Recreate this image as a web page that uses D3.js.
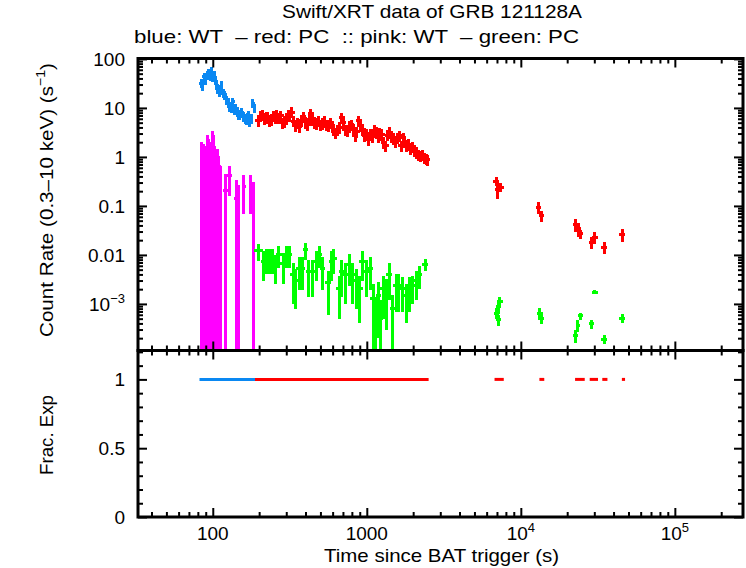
<!DOCTYPE html>
<html><head><meta charset="utf-8">
<script src="https://cdn.jsdelivr.net/npm/d3@7"></script>
<style>
body{margin:0;background:#fff}
text{font-family:"Liberation Sans",Arial,Helvetica,sans-serif;fill:#000}
</style>
</head><body><svg id="c" width="746" height="568"></svg>
<script>
// ---------------- DATA ----------------
// Blue: WT mode count rate
const blueT    = [84,86,88,90,92,94,96,98,100,102,104,106,108,110,112,114,117,120,123,126,129,132,135,138,141,144,147,150,154,158,162,166,170,174,178,182,186];
const blueTerr = [1,1,1,1,1,1,1,1,1,1,1,1,1,1,1,1,1.5,1.5,1.5,1.5,1.5,1.5,1.5,1.5,1.5,1.5,1.5,1.5,2,2,2,2,2,2,2,2,2];
const blueRate = [32,29,43,38,47,52,44,55,43,48,37,30,25,21.5,24,29.5,20,18.4,14.5,13,10.6,9.9,13.4,9.1,10,8.4,7.5,7.2,8,6.6,6,5.7,7.2,5.2,6.2,12.5,9.9];
const blueErr  = [7,6.5,9,8,10,11,9,12,9,10,8,6.5,5.5,5,5.5,6.5,4.4,4,3.2,2.9,2.4,2.2,2.9,2,2.2,1.9,1.7,1.6,1.8,1.5,1.4,1.3,1.6,1.2,1.4,2.7,2.2];

// Red: PC mode count rate
const redT = [198,204,210,216,222,228,234,240,247,254, 261,268,276,284,292,300,308,317,326,335,
              345,355,365,376,387,398,410,422,434,447, 460,473,487,501,516,531,546,562,578,595,
              612,630,648,667,686,706,727,748,770,792, 815,839,863,888,914,941,968,996,1025,1055,
              1086,1117,1150,1183,1218,1253,1290,1327,1366,1406, 1447,1489,1532,1577,1623,1670,1719,1769,1820,1873,
              1928,1984,2042,2101,2162,2225,2290,2357,2425,2480];
const redTerr = [6,6,6,6,7,7,7,7,7,8, 8,8,8,9,9,9,9,10,10,10, 10,11,11,11,12,12,12,13,13,13, 14,14,15,15,15,16,16,17,17,18,
                 18,19,19,20,21,21,22,22,23,24, 24,25,26,27,27,28,29,30,31,32, 33,34,35,35,37,38,39,40,41,42,
                 43,45,46,47,49,50,52,53,55,56, 58,60,61,63,65,67,69,71,73,50];
const redRate = [5.5,6.8,7.2,6.0,6.4,6.6,5.6,5.7,6.9,6.2, 7.2,6.3,7.0,5.0,5.3,6.0,7.3,7.0,8.2,5.4,
                 4.5,5.0,4.2,5.6,6.6,5.2,4.6,5.7,7.6,5.8, 5.2,4.9,5.4,4.6,4.9,5.3,4.6,4.5,5.0,4.2,
                 3.7,3.1,3.6,4.0,6.3,5.0,3.6,3.4,4.2,4.6, 3.7,2.7,3.3,5.5,4.4,3.6,2.7,2.9,2.3,3.0,
                 2.6,3.5,3.2,2.6,3.1,2.9,2.0,1.7,2.8,3.2, 2.6,2.4,2.1,2.5,2.7,1.7,2.5,2.1,1.7,1.8,
                 1.5,1.6,1.35,1.25,1.1,1.05,1.1,0.98,0.92,0.88];
const redErr  = [1.4,1.7,1.9,1.6,1.7,1.7,1.5,1.5,1.8,1.6, 1.9,1.6,1.8,1.3,1.4,1.6,1.9,1.8,2.1,1.4,
                 1.2,1.3,1.1,1.5,1.7,1.4,1.2,1.5,2.0,1.5, 1.4,1.3,1.4,1.2,1.3,1.4,1.2,1.2,1.3,1.1,
                 1.0,0.8,0.95,1.05,1.6,1.3,0.95,0.9,1.1,1.2, 0.95,0.7,0.85,1.4,1.15,0.95,0.7,0.75,0.6,0.78,
                 0.68,0.9,0.83,0.68,0.8,0.75,0.52,0.45,0.73,0.83, 0.68,0.62,0.55,0.65,0.7,0.45,0.65,0.55,0.45,0.47,
                 0.39,0.42,0.35,0.33,0.29,0.27,0.29,0.25,0.24,0.23];
const redLateT    = [6900,7050,7400,13000,13600,22600,23600,24500,28900,30100,34700,45500];
const redLateTerr = [200,150,220,350,350,600,500,600,700,900,800,1300];
const redLateRate = [0.32,0.22,0.24,0.095,0.063,0.042,0.034,0.027,0.018,0.023,0.0145,0.026];
const redLateErr  = [0.07,0.08,0.05,0.025,0.016,0.013,0.011,0.006,0.005,0.006,0.004,0.008];

// Pink: WT mode (second series)
const pinkT    = [85,86.5,88,89.5,91,92.5,94,95.5,97,98.5,100,101.5,103,104.5,106,107.5,109,110.5,112,121,129,142,146,159,176,183];
const pinkTerr = [1,1,1,1,1,1,1,1,1,1,1,1,1,1,1,1,1,1,1,2,3,2,2,2,2,2];
const pinkRate = [1.0,0.9,0.8,0.75,0.65,1.35,1.15,0.64,0.62,1.0,1.65,1.4,0.8,0.6,0.87,0.72,0.5,0.33,0.31,0.21,0.41,0.14,0.12,0.25,0.25,0.15];
const pinkErr  = [1.05,0.95,0.85,0.8,0.7,1.4,1.2,0.68,0.66,1.05,1.7,1.45,0.85,0.65,0.55,0.75,0.55,0.35,0.33,0.24,0.25,0.2,0.15,0.18,0.18,0.16];

// Green: PC mode (second series)
const greenT    = [199,214,223,235,246,256,269,286,301,316,332,346,363,382,401,421,443,470,494,515,562,590,610,660,685,730,767,807,855,899,935,991,1052,1100,1134,1190,1228,1280,1336,1400,1474,1550,1610,1710,1800,1900,1990,2090,2200,2390,
                   6950,7120,7200,7300,13300,13600,22600,23500,24300,28900,30100,34700,45500];
const greenTerr = [10,6,5,5,6,6,7,8,8,8,9,9,10,11,11,11,12,13,14,14,16,16,17,18,18,20,21,22,24,25,25,28,30,31,31,33,34,36,38,40,42,44,46,49,51,54,57,60,62,66,
                   200,150,150,200,350,350,500,500,600,700,900,800,1300];
const greenRate = [0.0121,0.0074,0.0085,0.0085,0.0085,0.0063,0.0101,0.0068,0.0101,0.0101,0.0040,0.0030,0.0054,0.0054,0.0126,0.0046,0.0046,0.0074,0.0101,0.0054,0.0027,0.0074,0.0085,0.0021,0.0046,0.0040,0.0063,0.0040,0.0030,0.0021,0.0074,0.0046,0.0054,0.0013,0.0006,0.0015,0.0005,0.0021,0.0018,0.0040,0.0008,0.0024,0.0024,0.0021,0.0015,0.0021,0.0024,0.0030,0.0040,0.0065,
                   6.5e-4,8.8e-4,4.7e-4,1.1e-3,6.5e-4,5.1e-4,2.3e-4,3.7e-4,5.7e-4,3.9e-4,1.75e-3,1.9e-4,5.1e-4];
const greenErr  = [0.0045,0.0045,0.0045,0.0045,0.0045,0.0038,0.0048,0.0042,0.0048,0.0048,0.003,0.0022,0.0035,0.0035,0.0048,0.0032,0.0032,0.0045,0.0048,0.0035,0.0021,0.0045,0.0045,0.0016,0.0032,0.003,0.004,0.003,0.0022,0.0017,0.0045,0.0032,0.0035,0.0012,0.0008,0.0013,0.0007,0.0016,0.0015,0.0028,0.0007,0.0017,0.0017,0.0014,0.0011,0.0014,0.0014,0.0018,0.002,0.0017,
                   1.6e-4,2.5e-4,1.2e-4,2.8e-4,1.8e-4,1.2e-4,0.7e-4,1.0e-4,0.9e-4,0.8e-4,0.15e-3,0.4e-4,1.1e-4];

// Fractional exposure (value 1) intervals
const fracStart = [82,188,6750,13200,22500,28000,33800,45300];
const fracEnd   = [188,2520,7750,14200,26000,31700,36500,47500];
const fracMode  = ["WT","PC","PC","PC","PC","PC","PC","PC"];
const fracValue = [1,1,1,1,1,1,1,1];

// Tick labels
const xMajor = [100,1000,1e4,1e5];
const xMajorLabels = [["100",""],["1000",""],["10","4"],["10","5"]];
const yTopMajor = [1e-3,0.01,0.1,1,10,100];
const yTopLabels = [["10","\u22123"],["0.01",""],["0.1",""],["1",""],["10",""],["100",""]];
const yBotMajor = [0,0.5,1];
const yBotLabels = ["0","0.5","1"];

// ---------------- CHART ----------------
const W=746,H=568;
const L=138, R=743, T1=58.5, B1=350.5, B2=517;
const colors = {blue:"#0a88f2", red:"#ff0000", pink:"#ff00ff", green:"#00ff00"};

const x = d3.scaleLog().domain([32.7, 2.77e5]).range([L,R]);
const yTop = d3.scaleLog().domain([1.12e-4, 102]).range([B1,T1]);
const yBot = d3.scaleLinear().domain([0,1.21]).range([B2,B1]);

const svg = d3.select("#c");
svg.append("rect").attr("width",W).attr("height",H).attr("fill","#fff");
svg.append("defs").append("clipPath").attr("id","clipTop")
  .append("rect").attr("x",L).attr("y",T1).attr("width",R-L).attr("height",B1-T1);

const dataG = svg.append("g").attr("clip-path","url(#clipTop)");
function drawSeries(ts, terr, rs, rerr, color){
  const [ymin,ymax] = yTop.domain();
  const pts = ts.map((t,i)=>({t, te:terr[i], r:rs[i], e:rerr[i]}));
  const g = dataG.append("g").attr("stroke",color).attr("stroke-width",3).attr("shape-rendering","crispEdges");
  g.selectAll("line.v").data(pts).enter().append("line").attr("class","v")
    .attr("x1",d=>x(d.t)).attr("x2",d=>x(d.t))
    .attr("y1",d=>yTop(Math.max(d.r-d.e, ymin)))
    .attr("y2",d=>yTop(Math.min(d.r+d.e, ymax)));
  g.selectAll("line.h").data(pts).enter().append("line").attr("class","h")
    .attr("x1",d=>x(d.t-d.te)-1).attr("x2",d=>x(d.t+d.te)+1)
    .attr("y1",d=>yTop(d.r)).attr("y2",d=>yTop(d.r));
}
drawSeries(blueT, blueTerr, blueRate, blueErr, colors.blue);
drawSeries(redT, redTerr, redRate, redErr, colors.red);
drawSeries(redLateT, redLateTerr, redLateRate, redLateErr, colors.red);
drawSeries(pinkT, pinkTerr, pinkRate, pinkErr, colors.pink);
drawSeries(greenT, greenTerr, greenRate, greenErr, colors.green);

// bottom panel fractional exposure
const fr = fracStart.map((s,i)=>({s, e:fracEnd[i], m:fracMode[i], v:fracValue[i]}));
svg.append("g").selectAll("line").data(fr).enter().append("line")
  .attr("x1",d=>x(d.s)).attr("x2",d=>x(d.e))
  .attr("y1",d=>yBot(d.v)).attr("y2",d=>yBot(d.v))
  .attr("stroke",d=>d.m==="WT"?colors.blue:colors.red)
  .attr("stroke-width",3);

// ticks via d3 axes
function ticks(axisFn, scale, values, size, tx, ty){
  const g = svg.append("g").attr("transform",`translate(${tx},${ty})`)
    .call(axisFn(scale).tickValues(values).tickSize(size).tickSizeOuter(0).tickFormat(""));
  g.select(".domain").remove();
  g.selectAll("line").attr("stroke","#000").attr("stroke-width",2);
  g.selectAll("text").remove();
}
function logMinors(lo, hi){
  const out=[];
  for(let k=Math.floor(Math.log10(lo)); k<=Math.ceil(Math.log10(hi)); k++){
    for(let m=2;m<=9;m++){ const v=m*Math.pow(10,k); if(v>=lo && v<=hi) out.push(v); }
  }
  return out;
}
const xMinor = logMinors(...x.domain());
const yTopMinor = logMinors(...yTop.domain());
const yBotMinor = d3.range(0,13).map(i=>i/10).filter(v=>yBotMajor.indexOf(v)<0 && v<1.21);

[[d3.axisTop,T1],[d3.axisBottom,B1],[d3.axisTop,B1],[d3.axisBottom,B2]].forEach(([fn,yy])=>{
  ticks(fn, x, xMinor, -5, 0, yy);
  ticks(fn, x, xMajor, -9, 0, yy);
});
ticks(d3.axisLeft, yTop, yTopMinor, -5, L, 0);
ticks(d3.axisLeft, yTop, yTopMajor, -9, L, 0);
ticks(d3.axisRight, yTop, yTopMinor, -5, R, 0);
ticks(d3.axisRight, yTop, yTopMajor, -9, R, 0);
ticks(d3.axisLeft, yBot, yBotMinor, -5, L, 0);
ticks(d3.axisLeft, yBot, yBotMajor, -9, L, 0);
ticks(d3.axisRight, yBot, yBotMinor, -5, R, 0);
ticks(d3.axisRight, yBot, yBotMajor, -9, R, 0);

// frames
svg.append("rect").attr("x",L).attr("y",T1).attr("width",R-L).attr("height",B1-T1)
  .attr("fill","none").attr("stroke","#000").attr("stroke-width",3);
svg.append("rect").attr("x",L).attr("y",B1).attr("width",R-L).attr("height",B2-B1)
  .attr("fill","none").attr("stroke","#000").attr("stroke-width",3);

// tick labels
const FS = 19;
xMajor.forEach((v,i)=>{
  const t = svg.append("text").attr("x",x(v)).attr("y",540).attr("text-anchor","middle").attr("font-size",FS);
  t.append("tspan").text(xMajorLabels[i][0]);
  if(xMajorLabels[i][1]) t.append("tspan").attr("dy",-8).attr("font-size",13).text(xMajorLabels[i][1]);
});
yTopMajor.forEach((v,i)=>{
  const t = svg.append("text").attr("x",125).attr("y",yTop(v)+7).attr("text-anchor","end").attr("font-size",FS);
  t.append("tspan").text(yTopLabels[i][0]);
  if(yTopLabels[i][1]) t.append("tspan").attr("dy",-8).attr("font-size",13).text(yTopLabels[i][1]);
});
yBotMajor.forEach((v,i)=>{
  svg.append("text").attr("x",125).attr("y",yBot(v)+7).attr("text-anchor","end").attr("font-size",FS).text(yBotLabels[i]);
});

// titles
svg.append("text").attr("x",282).attr("y",18).attr("font-size",FS)
  .attr("textLength",300).attr("lengthAdjust","spacingAndGlyphs")
  .text("Swift/XRT data of GRB 121128A");
svg.append("text").attr("x",134).attr("y",43).attr("font-size",FS)
  .attr("textLength",445).attr("lengthAdjust","spacingAndGlyphs")
  .attr("xml:space","preserve").style("white-space","pre")
  .text("blue: WT  \u2013 red: PC  :: pink: WT  \u2013 green: PC");
svg.append("text").attr("x",324).attr("y",562).attr("font-size",FS)
  .attr("textLength",235).attr("lengthAdjust","spacingAndGlyphs")
  .text("Time since BAT trigger (s)");
const yl = svg.append("text").attr("transform","translate(53,337) rotate(-90)").attr("font-size",FS)
  .attr("textLength",274).attr("lengthAdjust","spacingAndGlyphs");
yl.append("tspan").text("Count Rate (0.3\u201310 keV) (s");
yl.append("tspan").attr("dy",-8).attr("font-size",13).text("\u22121");
yl.append("tspan").attr("dy",8).text(")");
svg.append("text").attr("transform","translate(53,475) rotate(-90)").attr("font-size",FS)
  .attr("textLength",80).attr("lengthAdjust","spacingAndGlyphs")
  .text("Frac. Exp");
</script>
</body></html>
